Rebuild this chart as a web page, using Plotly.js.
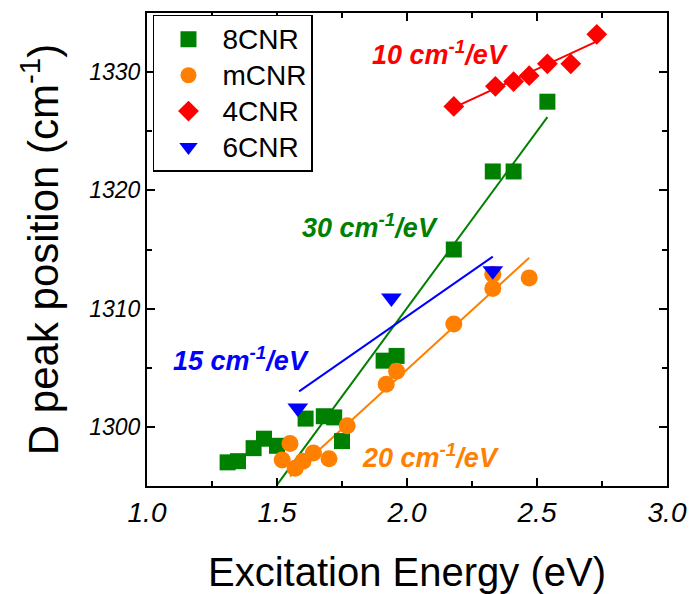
<!DOCTYPE html>
<html>
<head>
<meta charset="utf-8">
<script src="https://cdn.plot.ly/plotly-3.0.1.min.js"></script>
<style>html,body{margin:0;padding:0;background:#fff;}#chart{width:692px;height:594px;}</style>
</head>
<body>
<div id="chart"></div>
<script>
// ---- data ----
const energy8CNR = [1.31, 1.35, 1.41, 1.45, 1.50, 1.61, 1.68, 1.72, 1.75, 1.91, 1.96, 2.18, 2.33, 2.41, 2.54];
const peak8CNR   = [1297.0, 1297.1, 1298.2, 1299.0, 1298.4, 1300.7, 1300.9, 1300.8, 1298.8, 1305.6, 1306.0, 1315.0, 1321.6, 1321.6, 1327.5];

const energyMCNR = [1.52, 1.55, 1.57, 1.60, 1.64, 1.70, 1.77, 1.92, 1.96, 2.18, 2.33, 2.33, 2.47];
const peakMCNR   = [1297.2, 1298.6, 1296.5, 1297.1, 1297.8, 1297.3, 1300.1, 1303.6, 1304.7, 1308.7, 1311.7, 1312.9, 1312.6];

const energy4CNR = [2.18, 2.34, 2.41, 2.47, 2.54, 2.63, 2.73];
const peak4CNR   = [1327.1, 1328.8, 1329.2, 1329.7, 1330.7, 1330.7, 1333.2];

const energy6CNR = [1.58, 1.94, 2.33];
const peak6CNR   = [1301.6, 1310.9, 1313.2];

// linear fit lines (end points)
const fit8CNR_x = [1.50, 2.54];   const fit8CNR_y = [1295.1, 1326.2];
const fitMCNR_x = [1.55, 2.47];   const fitMCNR_y = [1295.8, 1314.3];
const fit4CNR_x = [2.18, 2.73];   const fit4CNR_y = [1327.0, 1332.6];
const fit6CNR_x = [1.585, 2.33];  const fit6CNR_y = [1303.0, 1314.4];

const seriesNames = ['8CNR', 'mCNR', '4CNR', '6CNR'];
const slopeLabels = ['30 cm<sup>-1</sup>/eV', '20 cm<sup>-1</sup>/eV', '10 cm<sup>-1</sup>/eV', '15 cm<sup>-1</sup>/eV'];
const slopeLabelX = [1.858, 2.092, 2.127, 1.362];
const slopeLabelY = [1317.0, 1297.55, 1331.6, 1305.75];

const xTicks = [1.0, 1.5, 2.0, 2.5, 3.0];
const yTicks = [1300, 1310, 1320, 1330];

const cGreen = '#008000', cOrange = '#ff8000', cRed = '#ff0000', cBlue = '#0000ff';
const colors = [cGreen, cOrange, cRed, cBlue];
const FONT = 'Liberation Sans, Arial, sans-serif';

function legendName(n) { return '<span style="font-size:28px">' + n + '</span>'; }

function fitLine(x, y, c) {
  return {x: x, y: y, type: 'scatter', mode: 'lines', line: {color: c, width: 2}, showlegend: false, hoverinfo: 'skip'};
}
const traces = [
  fitLine(fit8CNR_x, fit8CNR_y, cGreen),
  fitLine(fitMCNR_x, fitMCNR_y, cOrange),
  fitLine(fit4CNR_x, fit4CNR_y, cRed),
  fitLine(fit6CNR_x, fit6CNR_y, cBlue),
  {x: energy8CNR, y: peak8CNR, name: legendName(seriesNames[0]), type: 'scatter', mode: 'markers',
   marker: {symbol: 'square', size: 16, color: cGreen}},
  {x: energyMCNR, y: peakMCNR, name: legendName(seriesNames[1]), type: 'scatter', mode: 'markers',
   marker: {symbol: 'circle', size: 17, color: cOrange}},
  {x: energy4CNR, y: peak4CNR, name: legendName(seriesNames[2]), type: 'scatter', mode: 'markers',
   marker: {symbol: 'diamond', size: 16, color: cRed}},
  {x: energy6CNR, y: peak6CNR, name: legendName(seriesNames[3]), type: 'scatter', mode: 'markers',
   marker: {symbol: 'triangle-down', size: 18, color: cBlue}}
];

const annotations = slopeLabels.map((t, i) => ({
  x: slopeLabelX[i], y: slopeLabelY[i], xref: 'x', yref: 'y',
  text: '<b><i>' + t + '</i></b>', showarrow: false,
  font: {family: FONT, size: 27, color: colors[i]}
}));

const layout = {
  width: 692, height: 594,
  margin: {l: 147, r: 25, t: 13, b: 108},
  paper_bgcolor: '#fff', plot_bgcolor: '#fff',
  showlegend: true,
  legend: {x: 0.0115, y: 0.996, xanchor: 'left', yanchor: 'top',
           bordercolor: '#000', borderwidth: 1.5, bgcolor: '#fff',
           font: {family: FONT, size: 25.3, color: '#000'}, itemwidth: 58, tracegroupgap: 0},
  xaxis: {
    range: [1.0, 3.0], tickvals: xTicks, ticktext: xTicks.map(v => v.toFixed(1)),
    ticks: 'inside', ticklen: 8, tickwidth: 2, tickcolor: '#000',
    minor: {dtick: 0.25, tick0: 1.0, ticks: 'inside', ticklen: 5, tickwidth: 2, tickcolor: '#000'},
    showline: true, linecolor: '#000', linewidth: 2, mirror: 'allticks',
    showgrid: false, zeroline: false,
    tickfont: {family: FONT, size: 28, color: '#000', style: 'italic'},
    title: {text: 'Excitation Energy (eV)', font: {family: FONT, size: 40, color: '#000'}, standoff: 32}
  },
  yaxis: {
    range: [1295, 1335], tickvals: yTicks, ticktext: yTicks.map(String),
    ticks: 'inside', ticklen: 8, tickwidth: 2, tickcolor: '#000',
    minor: {dtick: 5, tick0: 1295, ticks: 'inside', ticklen: 5, tickwidth: 2, tickcolor: '#000'},
    showline: true, linecolor: '#000', linewidth: 2, mirror: 'allticks',
    showgrid: false, zeroline: false,
    tickfont: {family: FONT, size: 23, color: '#000', style: 'italic'},
    title: {text: 'D peak position (cm<sup>-1</sup>)', font: {family: FONT, size: 42, color: '#000'}, standoff: 18}
  },
  annotations: annotations
};

Plotly.newPlot('chart', traces, layout, {staticPlot: true});
</script>
</body>
</html>
